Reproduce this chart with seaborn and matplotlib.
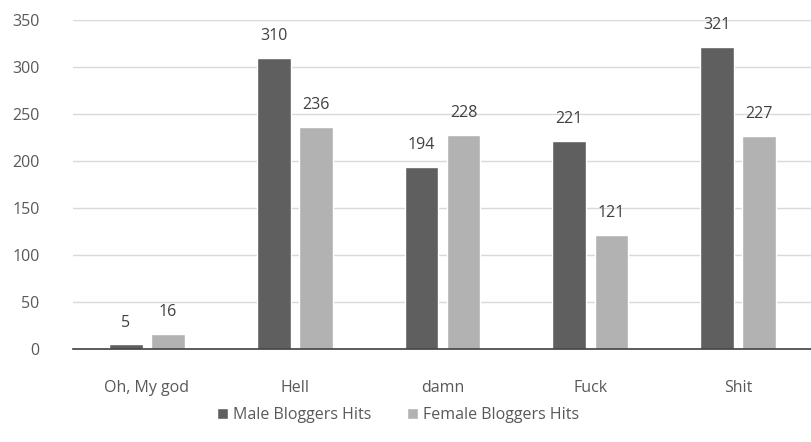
import matplotlib
matplotlib.use("Agg")
import matplotlib.pyplot as plt
import seaborn as sns
import pandas as pd

categories = ["Oh, My god", "Hell", "damn", "Fuck", "Shit"]
male_hits = [5, 310, 194, 221, 321]
female_hits = [16, 236, 228, 121, 227]
series_names = ["Male Bloggers Hits", "Female Bloggers Hits"]
y_ticks = [0, 50, 100, 150, 200, 250, 300, 350]

df = pd.DataFrame({
    "word": categories * 2,
    "hits": male_hits + female_hits,
    "series": [series_names[0]] * len(categories) + [series_names[1]] * len(categories),
})

sns.set_theme(style="white")
plt.rcParams["font.family"] = ["Open Sans", "DejaVu Sans"]

text_color = "#595959"
colors = ["#5f5f5f", "#b2b2b2"]

fig = plt.figure(figsize=(8.12, 4.42), dpi=100)
ax = fig.add_axes([0.09, 0.21, 0.91, 0.745])

sns.barplot(data=df, x="word", y="hits", hue="series", order=categories,
            hue_order=series_names, palette=colors, width=0.57, gap=0.2,
            saturation=1, ax=ax, legend=True)

for container in ax.containers:
    ax.bar_label(container, padding=10, fontsize=11.5, color="#404040")

ax.set_ylim(0, 350)
ax.set_yticks(y_ticks)
ax.set_xlim(-0.5, len(categories) - 0.5)
ax.yaxis.grid(True, color="#d9d9d9", linewidth=1)
ax.set_axisbelow(True)
for side in ["left", "right", "top"]:
    ax.spines[side].set_visible(False)
ax.spines["bottom"].set_color("#404040")
ax.spines["bottom"].set_linewidth(1.2)
ax.tick_params(axis="both", length=0, labelsize=11.5, colors=text_color)
ax.tick_params(axis="x", pad=22)
ax.tick_params(axis="y", pad=24)
ax.set_xlabel("")
ax.set_ylabel("")

handles, labels = ax.get_legend_handles_labels()
ax.legend_.remove()
fig.legend(handles, labels, loc="center", bbox_to_anchor=(0.49, 0.06), ncol=2,
           frameon=False, fontsize=11.5, labelcolor=text_color,
           handlelength=0.7, handleheight=0.7, handletextpad=0.3, columnspacing=2.2)

fig.savefig("out.png", dpi=100)
